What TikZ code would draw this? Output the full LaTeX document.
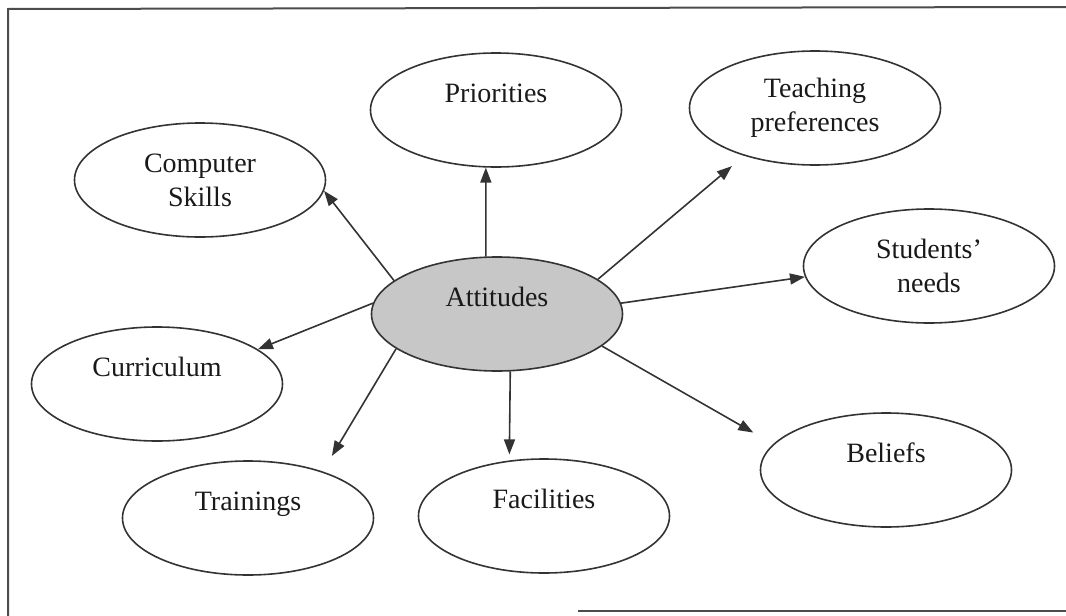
\documentclass[tikz,border=0pt]{standalone}
\usepackage{fontspec}
\setmainfont{Liberation Serif}
\usetikzlibrary{shapes.geometric,arrows.meta}
\newcommand{\inkcolor}{black!80}
\newcommand{\rim}{1.6pt}
\newcommand{\blank}{\mbox{}}

\begin{document}
\begin{tikzpicture}[x=1pt,y=-1pt,
  bubble/.style={ellipse,draw=\inkcolor,line width=\rim,minimum width=251pt,minimum height=114pt,
    inner sep=0pt,align=center,text=black!90,font=\fontsize{28}{34}\selectfont},
  spoke/.style={draw=\inkcolor,line width=\rim,-{Triangle[length=15pt,width=11pt]}}]
\useasboundingbox (0,0) rectangle (1066,616);
%frame
\draw[black!70,line width=2pt] (8,616) -- (8,9) -- (1066,7);
\draw[black!70,line width=2pt] (578,611) -- (1066,611);
%centre
\node[bubble,fill=black!22] (att) at (497,314) {Attitudes\\\blank};
%ring
\node[bubble] (pri) at (496,110) {Priorities\\\blank};
\node[bubble] (teach) at (815,108) {Teaching\\preferences};
\node[bubble] (skills) at (200,180) {Computer\\Skills};
\node[bubble] (needs) at (929,266) {Students'\\needs};
\node[bubble] (curr) at (157,384) {Curriculum\\\blank};
\node[bubble] (bel) at (886,470) {Beliefs\\\blank};
\node[bubble] (train) at (248,518) {Trainings\\\blank};
\node[bubble] (fac) at (544,516) {Facilities\\\blank};
%spokes
\draw[spoke] (att.101) -- (pri.-100);
\draw[spoke,shorten >=16pt] (att.19) -- (teach.-146);
\draw[spoke] (att.162) -- (skills.-5);
\draw[spoke] (att.5) -- (needs.185);
\draw[spoke] (att.175) -- (curr.19);
\draw[spoke,shorten >=23pt] (att.-17) -- (bel.167);
\draw[spoke,shorten >=18pt] (att.199) -- (train.32);
\draw[spoke,shorten >=6pt] (att.-77) -- (fac.122);
\end{tikzpicture}
\end{document}
